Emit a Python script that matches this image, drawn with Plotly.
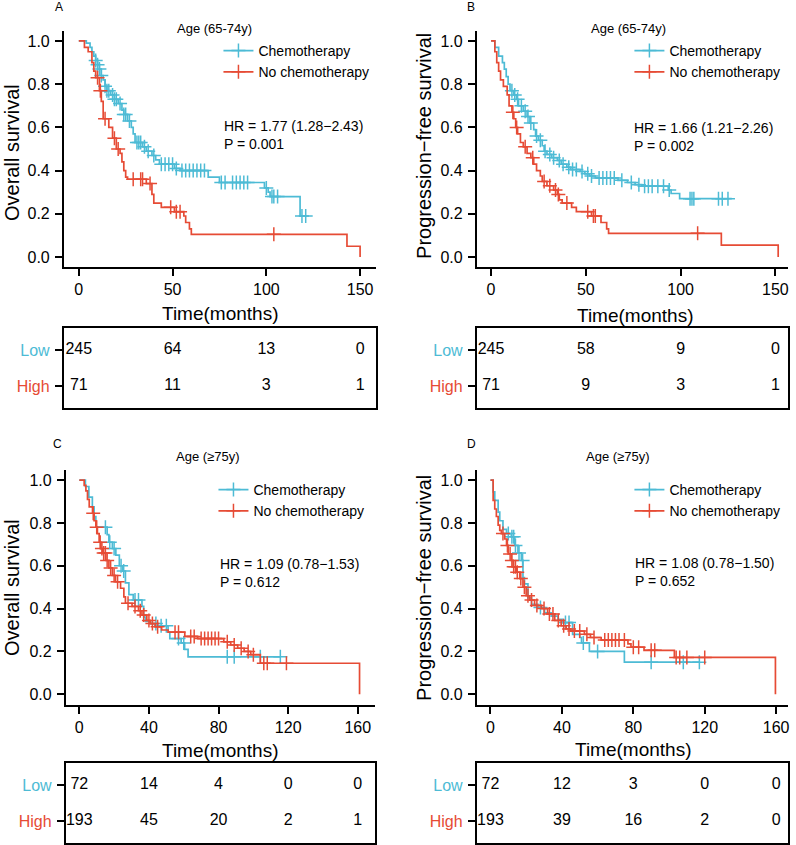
import numpy as np
import plotly.graph_objects as go

CYAN = "#4DBBD5"
RED = "#E64B35"
FONT = "Liberation Sans, Arial, sans-serif"
W, H = 796, 845

# ---------------- data ----------------
# A: overall survival, age 65-74
a_chemo_t = [0, 4, 6, 7, 8, 9, 10, 11, 12, 13, 14, 15, 17, 19, 21, 23, 24, 26, 28, 29,
             30, 34, 36, 39, 41, 43, 51, 54, 69, 75, 99, 101, 102, 118]
a_chemo_s = [1.0, 0.99, 0.97, 0.95, 0.93, 0.91, 0.89, 0.87, 0.84, 0.82, 0.79, 0.77, 0.75,
             0.73, 0.71, 0.68, 0.66, 0.63, 0.60, 0.57, 0.53, 0.51, 0.49, 0.47, 0.45, 0.43,
             0.41, 0.40, 0.37, 0.345, 0.32, 0.30, 0.28, 0.19]
a_chemo_end = 121
a_chemo_cens = [9, 10, 11, 12, 14, 15, 16, 18, 19, 20, 22, 24, 25, 27, 31, 32, 33, 35, 37,
                40, 44, 46, 48, 50, 52, 55, 57, 59, 61, 63, 65, 67, 76, 78, 82, 84, 86, 88,
                90, 100, 103, 104, 106, 119, 121]
a_none_t = [0, 3, 5, 7, 8, 9, 11, 12, 13, 16, 18, 20, 22, 23, 24, 25, 26, 36, 39, 40, 44,
            51, 56, 57, 59, 60, 143, 150]
a_none_s = [1.0, 0.97, 0.95, 0.90, 0.86, 0.83, 0.77, 0.72, 0.64, 0.60, 0.55, 0.50, 0.48,
            0.44, 0.40, 0.37, 0.36, 0.34, 0.29, 0.25, 0.23, 0.21, 0.19, 0.16, 0.13, 0.105,
            0.05, 0.0]
a_none_end = 150
a_none_cens = [10, 11.5, 14, 19, 21, 29, 33, 34, 38, 49, 52, 54, 104]
a_times = [0, 50, 100, 150]
a_low = [245, 64, 13, 0]
a_high = [71, 11, 3, 1]

# B: progression-free survival, age 65-74
b_chemo_t = [0, 2, 4, 6, 7, 8, 9, 10, 12, 13.5, 14.5, 17, 19, 20.5, 22.5, 23.5, 25, 27, 28,
             29.5, 32, 35, 37, 40, 42, 47, 49.5, 52, 55, 67, 72, 76, 79.5, 93.5, 95, 99.5]
b_chemo_s = [1.0, 0.97, 0.93, 0.90, 0.87, 0.835, 0.80, 0.77, 0.75, 0.73, 0.70, 0.675, 0.65,
             0.62, 0.59, 0.56, 0.54, 0.515, 0.49, 0.475, 0.46, 0.447, 0.43, 0.416, 0.405,
             0.396, 0.385, 0.375, 0.366, 0.355, 0.345, 0.335, 0.328, 0.31, 0.294, 0.27]
b_chemo_end = 127
b_chemo_cens = [11, 12.5, 14, 16, 18, 19.5, 21, 24, 26, 28.5, 31, 33, 36, 38, 41, 43, 45, 48,
                51, 53, 57, 59, 61, 63, 65, 69, 74, 78, 81, 83, 85, 88, 91, 94, 105, 106,
                107, 120, 122, 125]
b_none_t = [0, 2, 3, 4, 5, 6.5, 8.5, 9.5, 11, 12, 13, 14, 15.5, 17, 19, 21, 22.5, 24, 26,
            27, 29.5, 33, 35, 36, 37.5, 42.5, 45, 53, 58, 61, 62, 121.5, 151.5]
b_none_s = [1.0, 0.95, 0.90, 0.86, 0.82, 0.79, 0.75, 0.70, 0.67, 0.64, 0.60, 0.57, 0.53,
            0.51, 0.48, 0.46, 0.43, 0.40, 0.375, 0.35, 0.33, 0.31, 0.29, 0.265, 0.25, 0.23,
            0.21, 0.19, 0.16, 0.13, 0.11, 0.055, 0.0]
b_none_end = 151.5
b_none_cens = [11.5, 13.5, 18, 22, 28, 31, 34, 35.5, 40, 51, 54, 55, 109]
b_times = [0, 50, 100, 150]
b_low = [245, 58, 9, 0]
b_high = [71, 9, 3, 1]

# C: overall survival, age >=75
c_chemo_t = [0, 3.5, 5.5, 7.5, 8.5, 9.5, 16, 17, 19, 21, 23, 25, 26.5, 28.5, 31, 36, 37,
             38, 41, 45, 51, 52, 58.5, 60.5, 62.5]
c_chemo_s = [1.0, 0.97, 0.92, 0.875, 0.83, 0.78, 0.745, 0.71, 0.68, 0.65, 0.60, 0.575, 0.52,
             0.465, 0.44, 0.41, 0.36, 0.34, 0.33, 0.32, 0.29, 0.26, 0.24, 0.21, 0.175]
c_chemo_end = 115.5
c_chemo_cens = [15, 17.5, 20, 24, 25.5, 32, 34, 44, 47, 50, 57, 60, 85, 89, 104, 115.5]
c_none_t = [0, 2.8, 3.8, 4.7, 5.7, 7.6, 8.5, 9.5, 10.4, 11.4, 12.3, 13.3, 15.2, 17, 19,
            20.8, 23.7, 25.6, 26.5, 30.3, 34, 36, 38.8, 40.7, 43.6, 47.3, 51, 60.6, 68, 83,
            87, 91, 94.7, 98.5, 104, 161]
c_none_s = [1.0, 0.975, 0.95, 0.91, 0.875, 0.845, 0.81, 0.78, 0.75, 0.71, 0.68, 0.66, 0.625,
            0.59, 0.555, 0.525, 0.495, 0.455, 0.425, 0.41, 0.39, 0.37, 0.345, 0.33, 0.315,
            0.30, 0.29, 0.27, 0.26, 0.245, 0.23, 0.215, 0.20, 0.185, 0.145, 0.0]
c_none_end = 161
c_none_cens = [8, 10, 12, 13, 14, 15, 16, 18, 20, 22, 28, 32, 35, 37, 40, 42, 45, 55, 57,
               64, 66, 70, 72, 74, 76, 78, 80, 85, 89, 93, 97, 100, 106, 108, 119]
c_times = [0, 40, 80, 120, 160]
c_low = [72, 14, 4, 0, 0]
c_high = [193, 45, 20, 2, 1]

# D: progression-free survival, age >=75
d_chemo_t = [0, 1.5, 2.4, 4.3, 5.2, 7, 9, 11.7, 13.6, 15.4, 17.3, 18.2, 19, 21, 23, 26.6,
             30.3, 34, 37.8, 40.5, 46, 50, 51, 55.4, 75]
d_chemo_s = [1.0, 0.945, 0.905, 0.85, 0.81, 0.77, 0.75, 0.735, 0.695, 0.66, 0.625, 0.545,
             0.515, 0.45, 0.42, 0.405, 0.38, 0.365, 0.35, 0.335, 0.28, 0.265, 0.24, 0.20,
             0.15]
d_chemo_end = 117
d_chemo_cens = [10, 12, 13, 14, 16, 18, 28, 42, 44, 52, 60, 90, 108, 117]
d_none_t = [0, 1.5, 2.4, 3.3, 4.3, 5.2, 6.1, 8, 9, 9.9, 11.7, 12.7, 14.5, 16.4, 18.2, 20,
            22, 24.7, 28.5, 32, 36, 39.6, 42.4, 45, 52.6, 56, 62, 77, 78.7, 86, 103, 159.6]
d_none_s = [1.0, 0.905, 0.865, 0.83, 0.79, 0.765, 0.75, 0.725, 0.695, 0.655, 0.625, 0.595,
            0.57, 0.54, 0.50, 0.46, 0.44, 0.415, 0.40, 0.375, 0.345, 0.32, 0.305, 0.295,
            0.28, 0.265, 0.253, 0.235, 0.22, 0.205, 0.172, 0.0]
d_none_end = 159.6
d_none_cens = [7, 9.5, 11, 12, 13, 14, 15, 17, 19, 21, 23, 26, 30, 33, 35, 38, 41, 44, 47,
               50, 54, 58, 64, 66, 68, 70, 72, 75, 80, 83, 90, 92, 104, 106, 110, 120]
d_times = [0, 40, 80, 120, 160]
d_low = [72, 12, 3, 0, 0]
d_high = [193, 39, 16, 2, 0]

# ---------------- layout of the four panels (pixels) ----------------
panels = [
    dict(letter="A", sub="Age (65-74y)", ylab="Overall survival",
         chemo=(a_chemo_t, a_chemo_s, a_chemo_end, a_chemo_cens),
         none=(a_none_t, a_none_s, a_none_end, a_none_cens),
         times=a_times, low=a_low, high=a_high,
         hr="HR = 1.77 (1.28\u22122.43)", p="P = 0.001",
         box=(64, 377, 31, 267), tab=(328, 408), x0=79, ppm=1.88, yr=(-0.046, 1.046),
         letter_xy=(59, 7), sub_xy=(215, 28), hr_xy=(223, 126), ylab_xy=(12, 152),
         xlab_xy=(221, 314), leg_xy=(219, 35)),
    dict(letter="B", sub="Age (65-74y)", ylab="Progression\u2212free survival",
         chemo=(b_chemo_t, b_chemo_s, b_chemo_end, b_chemo_cens),
         none=(b_none_t, b_none_s, b_none_end, b_none_cens),
         times=b_times, low=b_low, high=b_high,
         hr="HR = 1.66 (1.21\u22122.26)", p="P = 0.002",
         box=(478, 790, 31, 267), tab=(328, 408), x0=492.3, ppm=1.9, yr=(-0.046, 1.046),
         letter_xy=(472.5, 7), sub_xy=(630, 28), hr_xy=(634, 128), ylab_xy=(425, 146),
         xlab_xy=(637, 315), leg_xy=(631, 35)),
    dict(letter="C", sub="Age (\u226575y)", ylab="Overall survival",
         chemo=(c_chemo_t, c_chemo_s, c_chemo_end, c_chemo_cens),
         none=(c_none_t, c_none_s, c_none_end, c_none_cens),
         times=c_times, low=c_low, high=c_high,
         hr="HR = 1.09 (0.78\u22121.53)", p="P = 0.612",
         box=(66, 376, 470, 705), tab=(763, 843), x0=79.5, ppm=1.745, yr=(-0.05, 1.047),
         letter_xy=(57.5, 444), sub_xy=(209, 456), hr_xy=(219, 564), ylab_xy=(12, 587),
         xlab_xy=(221, 750), leg_xy=(214, 474)),
    dict(letter="D", sub="Age (\u226575y)", ylab="Progression\u2212free survival",
         chemo=(d_chemo_t, d_chemo_s, d_chemo_end, d_chemo_cens),
         none=(d_none_t, d_none_s, d_none_end, d_none_cens),
         times=d_times, low=d_low, high=d_high,
         hr="HR = 1.08 (0.78\u22121.50)", p="P = 0.652",
         box=(478, 790, 470, 705), tab=(763, 843), x0=491.7, ppm=1.79, yr=(-0.05, 1.047),
         letter_xy=(472.5, 444), sub_xy=(620, 456), hr_xy=(635, 563), ylab_xy=(425, 588),
         xlab_xy=(635, 749), leg_xy=(631, 474)),
]


def fx(px):
    return px / W


def fy(py):
    return 1 - py / H


def step_at(t, s, when):
    idx = np.searchsorted(np.asarray(t), np.asarray(when), side="right") - 1
    return np.asarray(s)[idx]


fig = go.Figure()
layout = {}
annotations = []
LOW_Y, HIGH_Y = 0.72, 0.275

for i, p in enumerate(panels):
    n_plot, n_tab = 2 * i + 1, 2 * i + 2
    xa, ya = f"x{n_plot}", f"y{n_plot}"
    xt, yt = f"x{n_tab}", f"y{n_tab}"
    leg = "legend" if i == 0 else f"legend{i + 1}"
    x_left, x_right, y_top, y_bot = p["box"]
    xr = [(x_left - p["x0"]) / p["ppm"], (x_right - p["x0"]) / p["ppm"]]

    for key, color, name in [("chemo", CYAN, "Chemotherapy"), ("none", RED, "No chemotherapy")]:
        t, s, end, cens = p[key]
        fig.add_trace(go.Scatter(
            x=list(t) + [end], y=list(s) + [s[-1]], mode="lines",
            line={"color": color, "width": 1.7, "shape": "hv"},
            xaxis=xa, yaxis=ya, showlegend=False, hoverinfo="skip"))
        fig.add_trace(go.Scatter(
            x=cens, y=step_at(t, s, cens).tolist(), mode="markers",
            marker={"symbol": "cross-thin", "size": 10,
                    "line": {"color": color, "width": 1.5}},
            xaxis=xa, yaxis=ya, showlegend=False, hoverinfo="skip"))
        # legend entry: line with a cross
        fig.add_trace(go.Scatter(
            x=[None], y=[None], mode="lines+markers", name=name,
            line={"color": color, "width": 1.7},
            marker={"symbol": "cross-thin", "size": 10,
                    "line": {"color": color, "width": 1.5}},
            xaxis=xa, yaxis=ya, legend=leg))

    # number-at-risk table
    for vals, yrow in [(p["low"], LOW_Y), (p["high"], HIGH_Y)]:
        fig.add_trace(go.Scatter(
            x=p["times"], y=[yrow] * len(vals), mode="text",
            text=[str(v) for v in vals],
            textfont={"size": 16, "color": "black", "family": FONT},
            xaxis=xt, yaxis=yt, showlegend=False, hoverinfo="skip"))

    axis_common = dict(showgrid=False, zeroline=False, linecolor="black",
                       tickcolor="black", tickfont={"size": 16, "color": "black", "family": FONT})
    layout[f"xaxis{n_plot}"] = dict(
        domain=[fx(x_left), fx(x_right)], range=xr, anchor=ya,
        showline=True, linewidth=1.8, ticks="outside", ticklen=7, tickwidth=1.8,
        tickvals=p["times"], **axis_common)
    layout[f"yaxis{n_plot}"] = dict(
        domain=[fy(y_bot), fy(y_top)], range=list(p["yr"]), anchor=xa,
        showline=True, linewidth=1.8, ticks="outside", ticklen=7, tickwidth=1.8,
        tickvals=[0, 0.2, 0.4, 0.6, 0.8, 1.0], tickformat=".1f", ticklabelstandoff=2,
        **axis_common)
    tb, tbot = p["tab"]
    layout[f"xaxis{n_tab}"] = dict(
        domain=[fx(x_left), fx(x_right)], range=xr, anchor=yt,
        showline=True, mirror=True, linewidth=2, ticks="", showticklabels=False,
        **axis_common)
    layout[f"yaxis{n_tab}"] = dict(
        domain=[fy(tbot), fy(tb)], range=[0, 1], anchor=xt,
        showline=True, mirror=True, linewidth=2, ticks="outside", ticklen=7, tickwidth=1.8,
        tickvals=[LOW_Y, HIGH_Y], ticklabelstandoff=2,
        ticktext=[f"<span style='color:{CYAN}'>Low</span>",
                  f"<span style='color:{RED}'>High</span>"],
        **axis_common)

    lx, ly = p["leg_xy"]
    layout[leg] = dict(x=fx(lx), y=fy(ly), xanchor="left", yanchor="top",
                       bgcolor="rgba(0,0,0,0)", font={"size": 14, "family": FONT, "color": "black"},
                       tracegroupgap=0, itemwidth=30)

    def txt(xy, text, size, xanchor="center", **kw):
        annotations.append(dict(x=fx(xy[0]), y=fy(xy[1]), xref="paper", yref="paper",
                                xanchor=xanchor, yanchor="middle",
                                text=text, showarrow=False,
                                font={"size": size, "color": "black", "family": FONT}, **kw))

    txt(p["letter_xy"], p["letter"], 12)
    txt(p["sub_xy"], p["sub"], 13)
    txt(p["hr_xy"], p["hr"], 14, xanchor="left")
    txt((p["hr_xy"][0], p["hr_xy"][1] + 18), p["p"], 14, xanchor="left")
    txt(p["xlab_xy"], "Time(months)", 19)
    txt(p["ylab_xy"], p["ylab"], 20, textangle=-90)

fig.update_layout(
    width=W, height=H, margin={"l": 0, "r": 0, "t": 0, "b": 0},
    paper_bgcolor="white", plot_bgcolor="white",
    font={"family": FONT, "color": "black"},
    annotations=annotations, **layout)

# page body has a default 8px margin; drop it so the figure sits at the window origin
fig.write_html("out.html", config={"displayModeBar": False},
               post_script="document.body.style.margin='0';")
